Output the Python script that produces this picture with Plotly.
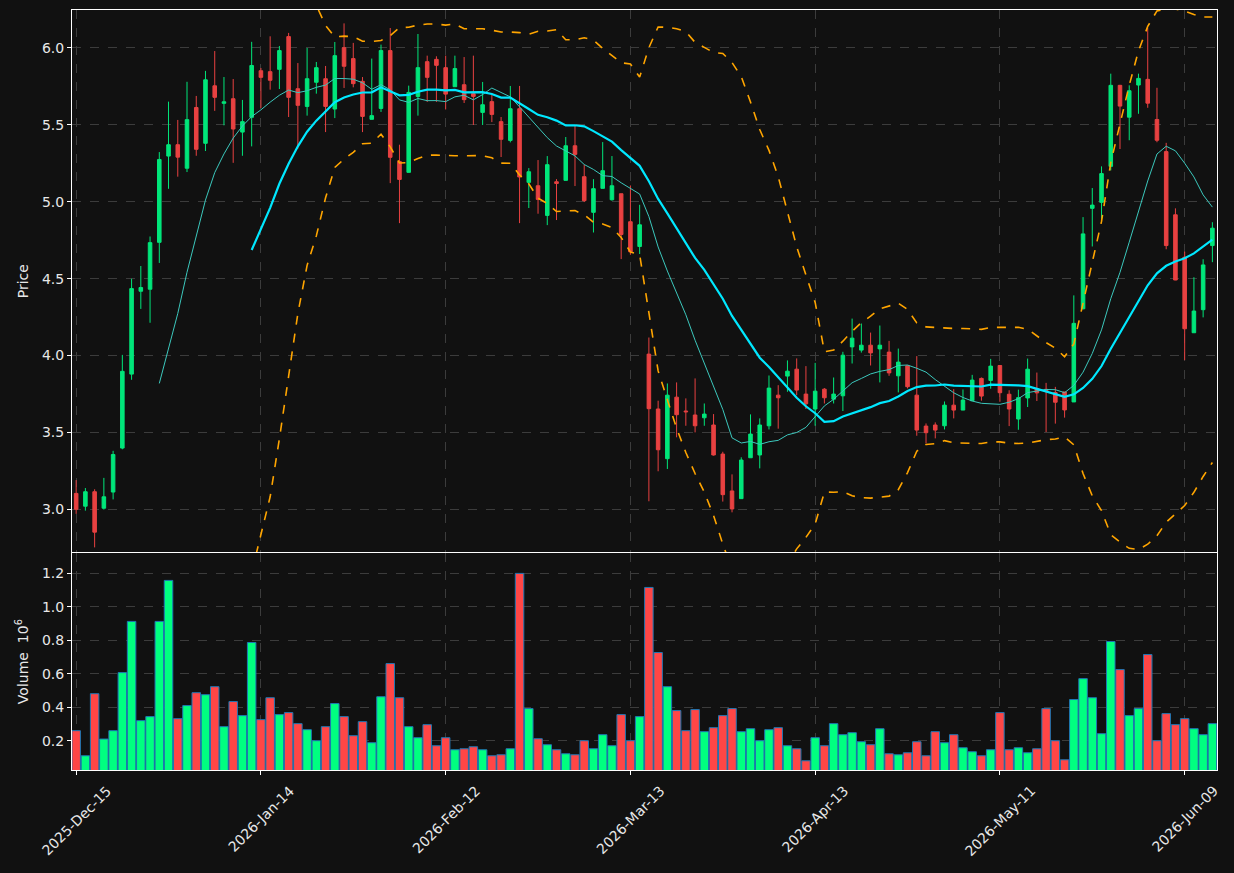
import pandas as pd
import plotly.graph_objects as go
from plotly.subplots import make_subplots

tick_labels = ["2025-Dec-15", "2026-Jan-14", "2026-Feb-12", "2026-Mar-13",
               "2026-Apr-13", "2026-May-11", "2026-Jun-09"]
tick_positions = [0, 20, 40, 60, 80, 100, 120]

opens = [3.103, 3.02, 3.114, 3.007, 3.112, 3.398, 3.879, 4.418, 4.431, 4.736,
         5.297, 5.371, 5.218, 5.613, 5.38, 5.754, 5.64, 5.67, 5.453, 5.549,
         5.852, 5.846, 5.861, 6.074, 5.735, 5.62, 5.777, 5.80, 5.603, 6.002,
         5.931, 5.783, 5.536, 5.607, 5.983, 5.262, 5.191, 5.685, 5.911, 5.926,
         5.872, 5.748, 5.761, 5.703, 5.581, 5.651, 5.521, 5.399, 5.605, 5.126,
         5.104, 4.911, 5.13, 5.139, 5.364, 5.163, 4.931, 5.087, 5.013, 5.052,
         4.87, 4.709, 4.009, 3.652, 3.329, 3.729, 3.639, 3.613, 3.595, 3.548,
         3.359, 3.119, 3.069, 3.335, 3.353, 3.543, 3.742, 3.866, 3.911, 3.749,
         3.652, 3.781, 3.716, 3.738, 4.056, 4.035, 4.067, 4.043, 4.022, 3.868,
         3.933, 3.742, 3.541, 3.548, 3.543, 3.677, 3.645, 3.706, 3.851, 3.838,
         3.935, 3.748, 3.587, 3.724, 3.783, 3.78, 3.759, 3.763, 3.698, 4.304,
         4.957, 4.996, 5.23, 5.757, 5.55, 5.759, 5.796, 5.535, 5.326, 4.915,
         4.639, 4.148, 4.298, 4.715]
highs = [3.19, 3.138, 3.13, 3.204, 3.38, 4.004, 4.499, 4.582, 4.774, 5.323,
         5.651, 5.532, 5.78, 5.688, 5.851, 5.98, 5.811, 5.798, 5.662, 6.04,
         5.87, 6.076, 6.013, 6.098, 5.902, 6.0, 5.909, 5.883, 6.039, 6.16,
         6.033, 5.811, 5.931, 6.022, 6.13, 5.371, 5.755, 6.091, 5.95, 5.946,
         5.95, 5.95, 5.941, 5.95, 5.779, 5.696, 5.551, 5.753, 5.753, 5.219,
         5.271, 5.297, 5.147, 5.421, 5.499, 5.241, 5.147, 5.388, 5.297, 5.052,
         5.106, 4.98, 4.117, 3.706, 3.818, 3.825, 3.721, 3.851, 3.688, 3.619,
         3.374, 3.227, 3.338, 3.617, 3.591, 3.87, 3.807, 3.968, 3.981, 3.931,
         3.952, 3.788, 3.857, 4.024, 4.24, 4.208, 4.149, 4.195, 4.095, 4.045,
         3.937, 3.996, 3.558, 3.565, 3.701, 3.781, 3.779, 3.874, 3.857, 3.978,
         3.935, 3.774, 3.778, 3.98, 3.889, 3.822, 3.796, 3.763, 4.391, 4.90,
         5.089, 5.23, 5.833, 5.76, 5.757, 5.833, 6.13, 5.741, 5.383, 4.957,
         4.676, 4.509, 4.626, 4.867]
lows = [2.97, 2.991, 2.752, 2.998, 3.064, 3.39, 3.842, 4.303, 4.213, 4.602,
        5.084, 5.163, 5.193, 5.299, 5.33, 5.591, 5.497, 5.253, 5.299, 5.36,
        5.61, 5.729, 5.733, 5.551, 5.345, 5.56, 5.703, 5.453, 5.544, 5.74,
        5.744, 5.453, 5.536, 5.584, 5.121, 4.861, 5.19, 5.56, 5.649, 5.649,
        5.60, 5.748, 5.642, 5.499, 5.499, 5.518, 5.291, 5.386, 4.861, 4.959,
        4.922, 4.848, 4.881, 5.139, 5.102, 4.998, 4.80, 5.087, 5.007, 4.627,
        4.655, 4.66, 3.052, 3.247, 3.262, 3.468, 3.543, 3.50, 3.543, 3.349,
        3.05, 2.98, 3.069, 3.335, 3.266, 3.519, 3.524, 3.764, 3.742, 3.652,
        3.543, 3.688, 3.688, 3.639, 3.948, 4.019, 3.935, 3.825, 3.868, 3.76,
        3.786, 3.478, 3.429, 3.461, 3.519, 3.591, 3.645, 3.706, 3.706, 3.784,
        3.699, 3.541, 3.517, 3.665, 3.704, 3.502, 3.557, 3.596, 3.698, 4.30,
        4.709, 4.865, 5.204, 5.343, 5.40, 5.572, 5.611, 5.387, 4.691, 4.49,
        3.97, 4.148, 4.248, 4.607]
closes = [3.00, 3.114, 2.851, 3.081, 3.356, 3.897, 4.435, 4.442, 4.734, 5.275,
          5.371, 5.290, 5.534, 5.341, 5.793, 5.679, 5.65, 5.473, 5.521, 5.886,
          5.809, 5.79, 5.983, 5.679, 5.627, 5.80, 5.872, 5.62, 5.95, 5.881,
          5.768, 5.555, 5.56, 5.983, 5.289, 5.145, 5.711, 5.872, 5.809, 5.887,
          5.70, 5.866, 5.664, 5.685, 5.631, 5.568, 5.406, 5.605, 5.161, 5.195,
          5.015, 5.241, 5.119, 5.364, 5.308, 5.007, 5.085, 5.202, 5.104, 4.787,
          4.675, 4.85, 3.654, 3.387, 3.742, 3.615, 3.634, 3.543, 3.619, 3.353,
          3.095, 3.002, 3.32, 3.489, 3.548, 3.788, 3.725, 3.898, 3.775, 3.686,
          3.768, 3.725, 3.749, 4.002, 4.113, 4.067, 4.017, 4.067, 3.887, 3.957,
          3.797, 3.515, 3.498, 3.515, 3.677, 3.645, 3.71, 3.84, 3.736, 3.931,
          3.758, 3.652, 3.726, 3.911, 3.757, 3.77, 3.696, 3.646, 4.209, 4.791,
          4.978, 5.183, 5.757, 5.622, 5.722, 5.802, 5.641, 5.40, 4.715, 4.491,
          4.174, 4.289, 4.589, 4.828]
volume_millions = [0.260, 0.110, 0.481, 0.210, 0.260, 0.607, 0.913, 0.320, 0.344, 0.913,
                   1.158, 0.332, 0.410, 0.487, 0.475, 0.523, 0.284, 0.434, 0.350, 0.787,
                   0.326, 0.457, 0.356, 0.368, 0.302, 0.266, 0.200, 0.284, 0.422, 0.344,
                   0.230, 0.314, 0.188, 0.463, 0.661, 0.457, 0.284, 0.218, 0.296, 0.170,
                   0.218, 0.146, 0.152, 0.164, 0.146, 0.110, 0.116, 0.152, 1.200, 0.392,
                   0.212, 0.176, 0.146, 0.122, 0.116, 0.200, 0.152, 0.236, 0.170, 0.356,
                   0.200, 0.344, 1.116, 0.727, 0.523, 0.380, 0.260, 0.386, 0.254, 0.278,
                   0.350, 0.392, 0.254, 0.272, 0.200, 0.266, 0.278, 0.170, 0.152, 0.080,
                   0.218, 0.170, 0.302, 0.236, 0.248, 0.194, 0.176, 0.272, 0.122, 0.116,
                   0.128, 0.194, 0.110, 0.254, 0.188, 0.236, 0.158, 0.134, 0.110, 0.146,
                   0.368, 0.146, 0.158, 0.128, 0.152, 0.392, 0.200, 0.086, 0.446, 0.571,
                   0.457, 0.242, 0.793, 0.625, 0.350, 0.392, 0.715, 0.200, 0.362, 0.296,
                   0.332, 0.272, 0.236, 0.302]

idx = list(range(len(closes)))
close_s = pd.Series(closes)
sma10 = close_s.rolling(10).mean()
sma20 = close_s.rolling(20).mean()
std20 = close_s.rolling(20).std(ddof=0)
bb_up = sma20 + 2 * std20
bb_lo = sma20 - 2 * std20

UP_C = "#00e67a"
DN_C = "#e84141"
UP_V = "#00ff80"
DN_V = "#ff4646"
BG = "#111111"
GRID = "#3c3c3c"
TXT = "#e8e8e8"

vol_colors = [UP_V if c >= o else DN_V for o, c in zip(opens, closes)]

fig = make_subplots(rows=2, cols=1, shared_xaxes=True, vertical_spacing=0.0013,
                    row_heights=[0.7145, 0.2855])

fig.add_trace(go.Candlestick(
    x=idx, open=opens, high=highs, low=lows, close=closes,
    increasing=dict(line=dict(color=UP_C, width=1), fillcolor=UP_C),
    decreasing=dict(line=dict(color=DN_C, width=1), fillcolor=DN_C),
    whiskerwidth=0, showlegend=False), row=1, col=1)

fig.add_trace(go.Scatter(x=idx, y=sma10, mode="lines",
                         line=dict(color="#3cc8bd", width=1), showlegend=False), row=1, col=1)
fig.add_trace(go.Scatter(x=idx, y=sma20, mode="lines",
                         line=dict(color="#00e8ff", width=2.2), showlegend=False), row=1, col=1)
fig.add_trace(go.Scatter(x=idx, y=bb_up, mode="lines",
                         line=dict(color="#ffa500", width=1.6, dash="dash"), showlegend=False), row=1, col=1)
fig.add_trace(go.Scatter(x=idx, y=bb_lo, mode="lines",
                         line=dict(color="#ffa500", width=1.6, dash="dash"), showlegend=False), row=1, col=1)

fig.add_trace(go.Bar(x=idx, y=volume_millions, marker=dict(color=vol_colors,
                     line=dict(color="#1f77b4", width=1)), width=0.92,
                     showlegend=False), row=2, col=1)

axis_common = dict(showline=True, mirror=True, linecolor="white", linewidth=1,
                   showgrid=True, gridcolor=GRID, griddash="dash", gridwidth=1,
                   zeroline=False, ticks="outside", tickcolor="white", ticklen=4,
                   tickfont=dict(color=TXT, size=14))

fig.update_xaxes(**axis_common, range=[-0.45, 123.5], tickvals=tick_positions,
                 ticktext=tick_labels, rangeslider_visible=False, showticklabels=False)

fig.update_yaxes(**axis_common)
fig.update_yaxes(range=[2.72, 6.247], dtick=0.5, tickformat=".1f",
                 title=dict(text="Price", font=dict(color=TXT, size=14), standoff=10),
                 row=1, col=1)
fig.update_yaxes(range=[0.025, 1.32], tickvals=[0.2, 0.4, 0.6, 0.8, 1.0, 1.2],
                 tickformat=".1f",
                 title=dict(text="Volume  10<sup>6</sup>", font=dict(color=TXT, size=14), standoff=10),
                 row=2, col=1)

# rotated date labels centred under their ticks (matplotlib style)
for pos, lab in zip(tick_positions, tick_labels):
    fig.add_annotation(x=pos, y=0, xref="x2", yref="paper", text=lab,
                       textangle=-45, xanchor="center", yanchor="top",
                       showarrow=False, yshift=-10,
                       font=dict(color=TXT, size=14, family="DejaVu Sans"))

fig.update_layout(
    width=1234, height=873,
    margin=dict(l=72, r=17, t=10, b=103),
    paper_bgcolor=BG, plot_bgcolor=BG,
    font=dict(family="DejaVu Sans", color=TXT, size=14),
    boxgap=0.45, bargap=0.05, showlegend=False,
)

fig.write_html("out.html")
